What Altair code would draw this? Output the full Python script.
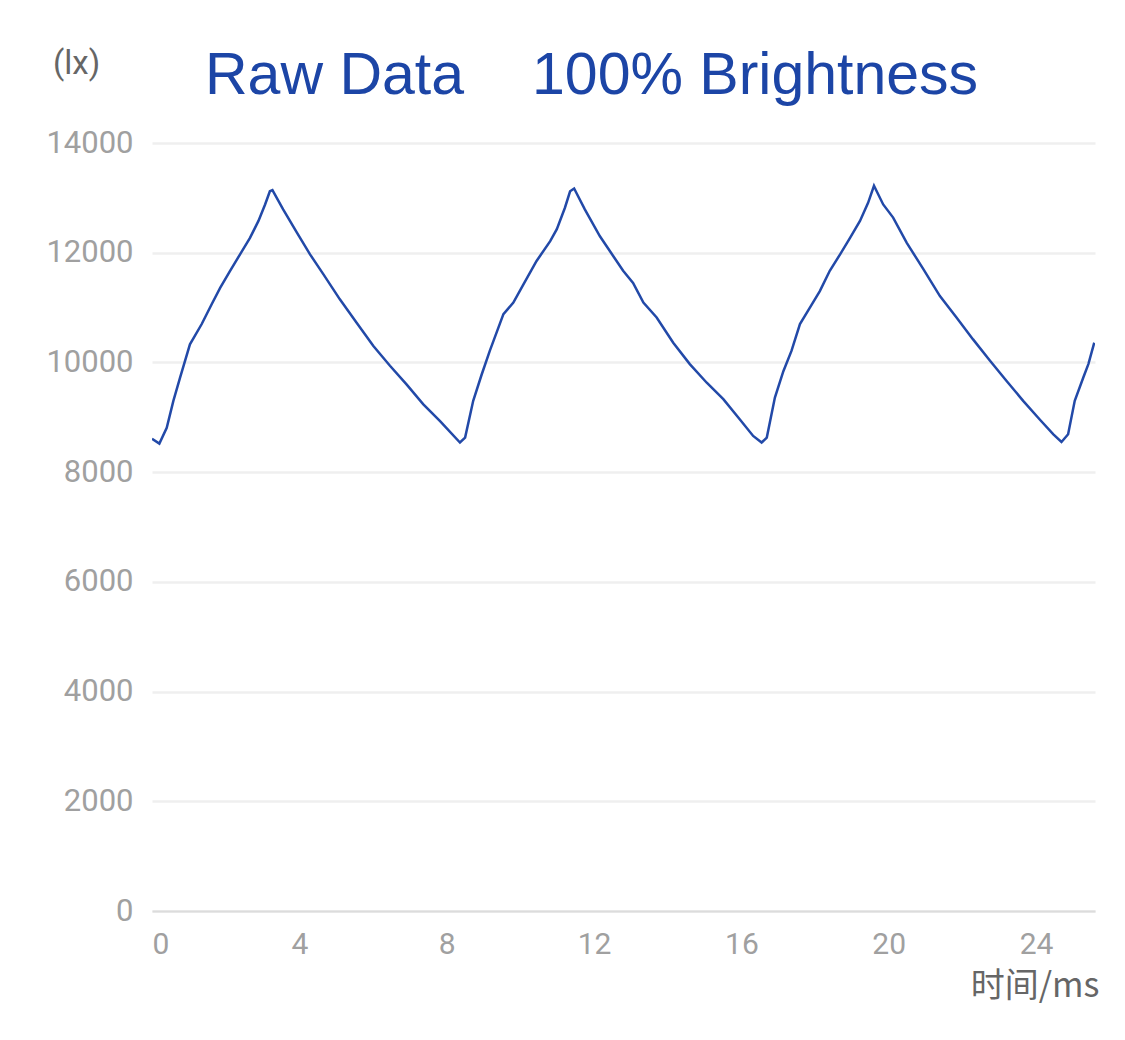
import altair as alt
import pandas as pd

# time (ms)
time_ms = [0.00, 0.20, 0.40, 0.58, 0.76, 1.03, 1.35, 1.62, 1.85, 2.12, 2.39, 2.66, 2.89, 3.07, 3.20, 3.27,
           3.56, 3.93, 4.29, 4.65, 5.10, 5.56, 6.01, 6.46, 6.91, 7.36, 7.82, 8.36,
           8.50, 8.72, 8.95, 9.17, 9.54, 9.81, 10.08, 10.44, 10.81, 10.99, 11.21, 11.35, 11.46,
           11.75, 12.16, 12.52, 12.79, 13.06, 13.34, 13.70, 14.15, 14.60, 15.06, 15.51, 15.96, 16.32, 16.55,
           16.69, 16.91, 17.14, 17.36, 17.59, 17.86, 18.13, 18.40, 18.68, 18.95, 19.22, 19.44, 19.60,
           19.85, 20.12, 20.49, 20.94, 21.39, 21.84, 22.29, 22.75, 23.20, 23.65, 24.10, 24.47, 24.69,
           24.87, 25.05, 25.28, 25.42, 25.58]
# illuminance (lx)
lux = [8610, 8520, 8810, 9300, 9720, 10330, 10700, 11060, 11360, 11670, 11970, 12270, 12580, 12880, 13120, 13140,
       12790, 12370, 11970, 11610, 11150, 10720, 10300, 9940, 9600, 9240, 8930, 8540,
       8630, 9300, 9780, 10210, 10880, 11090, 11420, 11850, 12210, 12430, 12820, 13120, 13170,
       12790, 12300, 11940, 11670, 11450, 11090, 10820, 10360, 9970, 9630, 9330, 8960, 8660, 8540,
       8630, 9360, 9840, 10210, 10700, 11000, 11300, 11670, 11970, 12270, 12580, 12910, 13220,
       12880, 12640, 12180, 11700, 11210, 10820, 10420, 10030, 9660, 9300, 8960, 8690, 8550,
       8690, 9300, 9720, 9970, 10360]

title_parts = ["Raw Data", "100% Brightness"]
y_unit = "(lx)"
x_title = "时间/ms"
x_ticks = [0, 4, 8, 12, 16, 20, 24]
y_ticks = [0, 2000, 4000, 6000, 8000, 10000, 12000, 14000]

df = pd.DataFrame({"t": time_ms, "v": lux})

line = alt.Chart(df).mark_line(color="#2249a8", strokeWidth=2.5, clip=True).encode(
    x=alt.X("t:Q", scale=alt.Scale(domain=[0, 25.6], nice=False, zero=False),
            axis=alt.Axis(values=x_ticks, format="d", title=x_title, grid=False, ticks=False,
                          labelFlush=True, labelPadding=18, labelFontSize=30, labelColor="#a0a0a0",
                          labelFont="Roboto",
                          domainColor="#dcdcdc", domainWidth=2,
                          titleFont="Noto Sans CJK SC", titleFontSize=34, titleFontWeight="normal",
                          titleColor="#666666", titleAlign="right", titleBaseline="alphabetic",
                          titleX=947, titleY=85)),
    y=alt.Y("v:Q", scale=alt.Scale(domain=[0, 14000], nice=False),
            axis=alt.Axis(values=y_ticks, format="d", title=None, domain=False, ticks=False,
                          labelPadding=19, labelFontSize=31, labelColor="#a0a0a0", labelFont="Roboto",
                          gridColor="#efefef", gridWidth=2.5)),
)

t1 = alt.Chart(pd.DataFrame({"s": [title_parts[0]]})).mark_text(
    align="left", baseline="alphabetic", fontSize=59, font="Liberation Sans", color="#1c45a6"
).encode(x=alt.value(53), y=alt.value(-49), text="s:N")

t2 = alt.Chart(pd.DataFrame({"s": [title_parts[1]]})).mark_text(
    align="left", baseline="alphabetic", fontSize=59, font="Liberation Sans", color="#1c45a6"
).encode(x=alt.value(380), y=alt.value(-49), text="s:N")

unit = alt.Chart(pd.DataFrame({"s": [y_unit]})).mark_text(
    align="left", baseline="alphabetic", fontSize=33, font="Roboto", color="#666666"
).encode(x=alt.value(-99), y=alt.value(-69), text="s:N")

chart = alt.layer(line, t1, t2, unit).properties(
    width=943, height=768,
    background="white",
    autosize=alt.AutoSizeParams(type="none"),
    padding={"left": 152, "top": 143, "right": 30, "bottom": 129},
).configure_view(stroke=None)

chart.save("out.html", embed_options={"renderer": "svg", "actions": False})
